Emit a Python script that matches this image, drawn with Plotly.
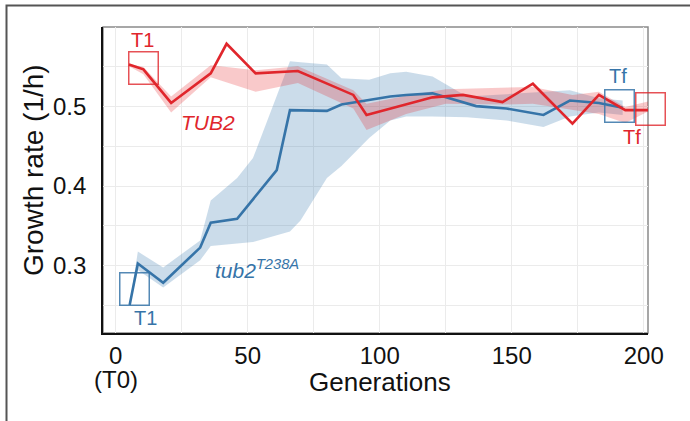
import plotly.graph_objects as go

# ---------------- data ----------------
red_x = [5.0, 10.5, 21, 36, 42, 53, 69, 90, 95, 120, 131.5, 146.5, 158, 173, 183, 193, 202]
red_y = [0.552, 0.546, 0.504, 0.541, 0.578, 0.541, 0.544, 0.514, 0.489, 0.511, 0.514, 0.505, 0.528, 0.478, 0.514, 0.495, 0.495]

red_band_x = [5.0, 10.5, 21, 36, 42, 53, 69, 90, 95, 110, 125, 147, 158, 173, 183, 193, 202]
red_band_lo = [0.550, 0.540, 0.492, 0.536, 0.530, 0.518, 0.529, 0.497, 0.470, 0.490, 0.503, 0.502, 0.503, 0.495, 0.490, 0.479, 0.494]
red_band_hi = [0.553, 0.549, 0.512, 0.551, 0.549, 0.545, 0.550, 0.520, 0.503, 0.513, 0.521, 0.523, 0.524, 0.514, 0.518, 0.499, 0.506]

blue_x = [5.3, 8.4, 18, 32, 36, 46, 61, 66, 80, 85.5, 104, 110, 120, 136.5, 148, 162, 172, 183, 192]
blue_y = [0.251, 0.303, 0.279, 0.323, 0.354, 0.359, 0.420, 0.495, 0.494, 0.502, 0.512, 0.514, 0.516, 0.500, 0.497, 0.489, 0.507, 0.504, 0.498]

blue_band_x = [5.3, 8.4, 18, 32, 36, 46, 52, 66, 70, 80, 85.5, 96, 104, 110, 120, 133, 148, 162, 172, 183, 192]
blue_band_lo = [0.250, 0.295, 0.273, 0.307, 0.325, 0.328, 0.330, 0.343, 0.357, 0.410, 0.425, 0.460, 0.482, 0.487, 0.487, 0.486, 0.482, 0.474, 0.487, 0.492, 0.489]
blue_band_hi = [0.252, 0.318, 0.298, 0.332, 0.382, 0.410, 0.435, 0.556, 0.555, 0.552, 0.535, 0.533, 0.541, 0.543, 0.537, 0.512, 0.515, 0.518, 0.520, 0.510, 0.507]

x_ticks = [0, 50, 100, 150, 200]
x_tick_text = ["0", "50", "100", "150", "200"]
x_minor = [25, 75, 125, 175]
y_ticks = [0.3, 0.4, 0.5]
y_tick_text = ["0.3", "0.4", "0.5"]
y_minor = [0.25, 0.35, 0.45, 0.55]

# time-point labels: (text, x, y, colour key)
point_labels = [("T1", 10.3, 0.583, "red"), ("T1", 11.4, 0.2345, "blue"),
                ("Tf", 190.2, 0.5376, "blue"), ("Tf", 195.5, 0.4618, "red")]
# boxes: (left x, centre y, colour key)
boxes = [(4.7, 0.5472, "red"), (1.25, 0.2717, "blue"), (184.9, 0.500, "blue"), (196.6, 0.496, "red")]

# ---------------- style ----------------
RED = "#e0262c"
BLUE = "#3674a8"
COL = {"red": RED, "blue": BLUE}
BOXCOL = {"red": "rgba(224,38,44,0.8)", "blue": "rgba(54,116,168,0.85)"}
FONT = "Liberation Sans, Arial, Helvetica, sans-serif"

L, T, W, H = 103, 27, 545, 306
FIG_W, FIG_H = 690, 421

fig = go.Figure()

fig.add_trace(go.Scatter(x=blue_band_x + blue_band_x[::-1], y=blue_band_hi + blue_band_lo[::-1],
                         fill="toself", fillcolor="rgba(70,130,180,0.28)", line=dict(width=0),
                         mode="lines", hoverinfo="skip", showlegend=False))
fig.add_trace(go.Scatter(x=red_band_x + red_band_x[::-1], y=red_band_hi + red_band_lo[::-1],
                         fill="toself", fillcolor="rgba(228,30,34,0.24)", line=dict(width=0),
                         mode="lines", hoverinfo="skip", showlegend=False))
fig.add_trace(go.Scatter(x=blue_x, y=blue_y, mode="lines", line=dict(color=BLUE, width=2.6),
                         showlegend=False))
fig.add_trace(go.Scatter(x=red_x, y=red_y, mode="lines", line=dict(color=RED, width=2.6),
                         showlegend=False))

for txt, x, y, c in point_labels:
    fig.add_annotation(x=x, y=y, xref="x", yref="y", text=txt, showarrow=False,
                       font=dict(family=FONT, size=20, color=COL[c]), xanchor="center", yanchor="middle")

for x, y, c in boxes:
    fig.add_annotation(x=x, y=y, xref="x", yref="y", text=" ", showarrow=False,
                       width=28, height=31, borderpad=0, borderwidth=1.5, bordercolor=BOXCOL[c],
                       xanchor="left", yanchor="middle")

fig.add_annotation(x=35, y=0.48, xref="x", yref="y", text="<i>TUB2</i>", showarrow=False,
                   font=dict(family=FONT, size=21, color=RED))
fig.add_annotation(x=53.5, y=0.296, xref="x", yref="y", text="<i>tub2<sup>T238A</sup></i>", showarrow=False,
                   font=dict(family=FONT, size=21, color=BLUE))

# "(T0)" under the 0 tick
fig.add_annotation(x=0, xref="x", yref="paper", y=(T + H - 380) / H, text="(T0)", showarrow=False,
                   xanchor="center", yanchor="middle", font=dict(family=FONT, size=24, color="#111"))

# axis titles
fig.add_annotation(xref="paper", yref="paper", x=(380 - L) / W, y=(T + H - 382) / H,
                   text="Generations", showarrow=False, xanchor="center", yanchor="middle",
                   font=dict(family=FONT, size=26, color="#111"))
fig.add_annotation(xref="paper", yref="paper", x=(33 - L) / W, y=(T + H - 170) / H,
                   text="Growth rate (1/h)", textangle=-90, showarrow=False,
                   xanchor="center", yanchor="middle", font=dict(family=FONT, size=28, color="#111"))

# panel border (grey) and outer frame
fig.add_shape(type="rect", xref="paper", yref="paper", x0=0, x1=1, y0=0, y1=1,
              line=dict(color="#8a8a8a", width=1.5), layer="below")
fig.add_shape(type="rect", xref="paper", yref="paper",
              x0=(6.5 - L) / W, x1=(710 - L) / W, y0=(T + H - 440) / H, y1=(T + H - 5.5) / H,
              line=dict(color="#555", width=2))

GRID = "#ebebeb"
fig.update_xaxes(range=[-4.8, 201.6], tickvals=x_ticks, ticktext=x_tick_text,
                 showgrid=True, gridcolor=GRID, gridwidth=1, zeroline=False,
                 minor=dict(tickvals=x_minor, showgrid=True, gridcolor=GRID, gridwidth=1),
                 showline=True, linecolor="#111", linewidth=1.8, ticks="",
                 tickfont=dict(family=FONT, size=24, color="#111"), ticklabelstandoff=0)
fig.update_yaxes(range=[0.2161, 0.599], tickvals=y_ticks, ticktext=y_tick_text,
                 showgrid=True, gridcolor=GRID, gridwidth=1, zeroline=False,
                 minor=dict(tickvals=y_minor, showgrid=True, gridcolor=GRID, gridwidth=1),
                 showline=True, linecolor="#111", linewidth=1.8, ticks="",
                 tickfont=dict(family=FONT, size=24, color="#111"), ticklabelstandoff=10)

fig.update_layout(width=FIG_W, height=FIG_H, margin=dict(l=L, r=FIG_W - L - W, t=T, b=FIG_H - T - H),
                  plot_bgcolor="white", paper_bgcolor="white", showlegend=False)

fig.write_html("out.html")
